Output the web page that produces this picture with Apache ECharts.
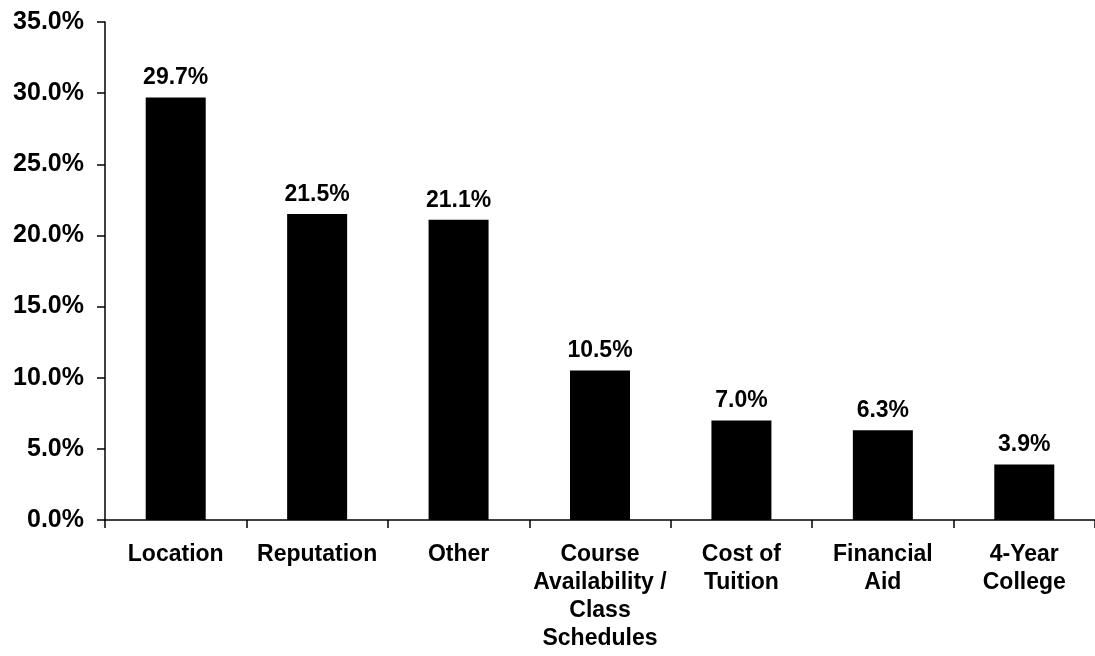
<!DOCTYPE html>
<html>
<head>
<meta charset="utf-8">
<script src="https://cdn.jsdelivr.net/npm/echarts@6/dist/echarts.min.js"></script>
<style>html,body{margin:0;padding:0;background:#fff;}#c{width:1095px;height:656px;}</style>
</head>
<body>
<div id="c"></div>
<script>
const categories = ["Location", "Reputation", "Other", "Course\nAvailability /\nClass\nSchedules", "Cost of\nTuition", "Financial\nAid", "4-Year\nCollege"];
const values = [29.7, 21.5, 21.1, 10.5, 7.0, 6.3, 3.9];
const yTicks = { min: 0, max: 35, interval: 5 };

const font = '"Liberation Sans", Arial, sans-serif';
const chart = echarts.init(document.getElementById('c'), null, { renderer: 'canvas' });
chart.setOption({
  animation: false,
  backgroundColor: '#fff',
  grid: { left: 105, top: 22, bottom: 136, width: 997, containLabel: false },
  xAxis: {
    type: 'category',
    data: categories,
    axisLine: { lineStyle: { color: '#000', width: 1.5 } },
    axisTick: { show: true, length: 8, lineStyle: { color: '#000', width: 1.5 }, alignWithLabel: false },
    axisLabel: {
      interval: 0, color: '#000', fontFamily: font, fontWeight: 'bold', fontSize: 23,
      lineHeight: 28, margin: 21
    }
  },
  yAxis: {
    type: 'value',
    min: yTicks.min, max: yTicks.max, interval: yTicks.interval,
    splitLine: { show: false },
    axisLine: { show: true, lineStyle: { color: '#000', width: 1.5 } },
    axisTick: { show: true, length: 8, lineStyle: { color: '#000', width: 1.5 } },
    axisLabel: {
      color: '#000', fontFamily: font, fontWeight: 'bold', fontSize: 25, margin: 21,
      formatter: v => v.toFixed(1) + '%'
    }
  },
  series: [{
    type: 'bar',
    data: values,
    barWidth: 60,
    itemStyle: { color: '#000' },
    label: {
      show: true, position: 'top', distance: 8,
      color: '#000', fontFamily: font, fontWeight: 'bold', fontSize: 23,
      formatter: p => p.value.toFixed(1) + '%'
    }
  }]
});
</script>
</body>
</html>
